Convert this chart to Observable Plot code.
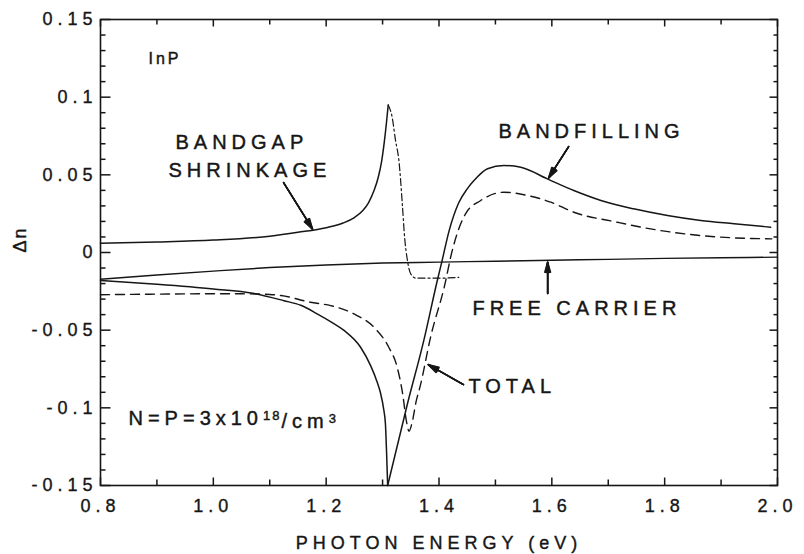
<!DOCTYPE html>
<html><head><meta charset="utf-8">
<script src="https://cdn.jsdelivr.net/npm/d3@7"></script>
<script src="https://cdn.jsdelivr.net/npm/@observablehq/plot@0.6"></script>
<style>
html,body{margin:0;padding:0;background:#fff;}
#chart svg{display:block;}
</style>
</head><body><div id="chart"></div>
<script>
// ---- data (photon energy in eV, Δn) ----
const bgsE  = [0.80,0.90,1.00,1.10,1.15,1.20,1.23,1.25,1.265,1.275,1.285,1.292,1.298,1.303,1.307,1.310];
const bgsDn = [0.0060,0.0068,0.0080,0.0105,0.0130,0.0160,0.0190,0.0225,0.0270,0.0320,0.0400,0.0480,0.0580,0.0710,0.0840,0.0950];
const bgsTailE  = [1.310,1.317,1.323,1.329,1.335,1.339,1.344,1.350,1.359,1.400,1.435];
const bgsTailDn = [0.0950,0.0870,0.0720,0.0590,0.0310,0.0100,-0.0050,-0.0138,-0.0165,-0.0165,-0.0160];
const bfLowE  = [0.80,0.90,1.00,1.07,1.125,1.155,1.184,1.21,1.231,1.261,1.279,1.290,1.296,1.302,1.305,1.307,1.309];
const bfLowDn = [-0.0180,-0.0205,-0.0235,-0.0262,-0.0310,-0.0340,-0.0395,-0.0450,-0.0500,-0.0610,-0.0730,-0.0830,-0.0900,-0.1010,-0.1100,-0.1280,-0.1500];
const bfHighE  = [1.309,1.344,1.373,1.397,1.405,1.418,1.435,1.450,1.462,1.486,1.515,1.545,1.592,1.639,1.687,1.745,1.805,1.864,1.923,1.988];
const bfHighDn = [-0.1500,-0.0975,-0.0567,-0.0180,-0.0060,0.0141,0.0320,0.0410,0.0463,0.0539,0.0560,0.0549,0.0474,0.0399,0.0335,0.0281,0.0238,0.0206,0.0185,0.0163];
const fcE  = [0.8,0.9,1.0,1.1,1.2,1.3,1.4,1.5,1.6,1.7,1.8,1.9,2.0];
const fcDn = [-0.0172,-0.0145,-0.0120,-0.0097,-0.0080,-0.0068,-0.0062,-0.0056,-0.0050,-0.0044,-0.0038,-0.0034,-0.0030];
const totE  = [0.80,0.90,0.98,1.05,1.10,1.12,1.172,1.208,1.249,1.287,1.311,1.326,1.336,1.342,1.347,1.352,1.360,1.366,1.385,1.412,1.420,1.432,1.447,1.474,1.515,1.557,1.598,1.639,1.716,1.775,1.864,1.923,1.990];
const totDn = [-0.0272,-0.0268,-0.0266,-0.0266,-0.0270,-0.0277,-0.0320,-0.0342,-0.0395,-0.0490,-0.0610,-0.0740,-0.0920,-0.1080,-0.1150,-0.1100,-0.0950,-0.0870,-0.0546,-0.0180,-0.0040,0.0120,0.0249,0.0335,0.0388,0.0367,0.0324,0.0259,0.0195,0.0152,0.0109,0.0094,0.0088];

const xTicks = [0.8,1.0,1.2,1.4,1.6,1.8,2.0];
const xTickLabels = ["0.8","1.0","1.2","1.4","1.6","1.8","2.0"];
const xMinorTicks = [0.9,1.1,1.3,1.5,1.7,1.9];
const yTicks = [-0.15,-0.1,-0.05,0,0.05,0.1,0.15];
const yTickLabels = ["-0.15","-0.1","-0.05","0","0.05","0.1","0.15"];
const yMinorTicks = [-0.14,-0.13,-0.12,-0.11,-0.09,-0.08,-0.07,-0.06,-0.04,-0.03,-0.02,-0.01,0.01,0.02,0.03,0.04,0.06,0.07,0.08,0.09,0.11,0.12,0.13,0.14];

// ---- layout ----
const W = 804, H = 554;
const mL = 100, mR = 27, mT = 19, mB = 69;
const iW = W - mL - mR, iH = H - mT - mB;
const X0 = 0.8, X1 = 2.0, Y0 = -0.15, Y1 = 0.15;
const kx = (X1 - X0) / iW, ky = (Y1 - Y0) / iH;   // data units per pixel
const INK = "#161616";
const FONT = "'Liberation Sans', Arial, Helvetica, sans-serif";
const rows = (xs, ys) => xs.map((x, i) => ({x, y: ys[i]}));
const CONC = "N=P=3x10\u00B9\u2078/cm\u00B3";

const labels = [
  {x: 0.8851, y: 0.1249, t: "InP", s: 16},
  {x: 0.9329, y: 0.0705, t: "BANDGAP", s: 20},
  {x: 0.9205, y: 0.0528, t: "SHRINKAGE", s: 20},
  {x: 1.5054, y: 0.0776, t: "BANDFILLING", s: 20},
  {x: 1.4593, y: -0.0364, t: "FREE CARRIER", s: 20},
  {x: 1.4522, y: -0.0866, t: "TOTAL", s: 20},
  {x: 0.8496, y: -0.1070, t: CONC, s: 20}
];
const arrows = [
  {x1: 1.1245, y1: 0.0450, x2: 1.1759, y2: 0.0150},
  {x1: 1.6298, y1: 0.0682, x2: 1.5943, y2: 0.0480},
  {x1: 1.5926, y1: -0.0264, x2: 1.5926, y2: -0.0062},
  {x1: 1.4434, y1: -0.0850, x2: 1.3810, y2: -0.0722}
];

// tick segments (inward on all four sides), built from the tick arrays
const seg = [];
for (const v of xTicks)      { seg.push({x1: v, x2: v, y1: Y0, y2: Y0 + 8 * ky}, {x1: v, x2: v, y1: Y1, y2: Y1 - 7 * ky}); }
for (const v of xMinorTicks) { seg.push({x1: v, x2: v, y1: Y0, y2: Y0 + 6 * ky}, {x1: v, x2: v, y1: Y1, y2: Y1 - 5 * ky}); }
for (const v of yTicks)      { seg.push({x1: X0, x2: X0 + 10 * kx, y1: v, y2: v}, {x1: X1, x2: X1 - 8 * kx, y1: v, y2: v}); }
for (const v of yMinorTicks) { seg.push({x1: X0, x2: X0 + 5 * kx, y1: v, y2: v}, {x1: X1, x2: X1 - 4 * kx, y1: v, y2: v}); }

const lineOpts = {x: "x", y: "y", stroke: INK, strokeWidth: 1.5, curve: "monotone-x"};

const chart = Plot.plot({
  width: W, height: H,
  marginLeft: mL, marginRight: mR, marginTop: mT, marginBottom: mB,
  x: {domain: [X0, X1]},
  y: {domain: [Y0, Y1]},
  style: {fontFamily: FONT, background: "#fff", color: INK},
  marks: [
    Plot.axisX({ticks: xTicks, tickSize: 0, tickPadding: 14, fontSize: 18, fill: INK,
      tickFormat: d => xTickLabels[xTicks.indexOf(d)], label: null}),
    Plot.axisY({ticks: yTicks, tickSize: 0, tickPadding: 3, fontSize: 18, fill: INK,
      tickFormat: d => yTickLabels[yTicks.indexOf(d)], label: null}),
    Plot.frame({stroke: INK, strokeWidth: 1.6}),
    Plot.link(seg, {x1: "x1", y1: "y1", x2: "x2", y2: "y2", stroke: INK, strokeWidth: 1.5}),
    Plot.line(rows(fcE, fcDn), {...lineOpts, strokeWidth: 1.4}),
    Plot.line(rows(bgsE, bgsDn), lineOpts),
    Plot.line(rows(bgsTailE, bgsTailDn), {...lineOpts, strokeWidth: 1.2, strokeDasharray: "7,3,2,3"}),
    Plot.line(rows(bfLowE, bfLowDn), lineOpts),
    Plot.line(rows(bfHighE, bfHighDn), lineOpts),
    Plot.line(rows(totE, totDn), {...lineOpts, strokeWidth: 1.4, strokeDasharray: "9,6"}),
    ...[8, 16, 24, 32].map(a => Plot.arrow(arrows, {x1: "x1", y1: "y1", x2: "x2", y2: "y2", stroke: INK, strokeWidth: 1.5, headLength: 11, headAngle: a})),
    Plot.text(labels, {x: "x", y: "y", text: "t", fontSize: d => d.s, textAnchor: "start", fill: INK, stroke: INK, strokeWidth: 0.45}),
    Plot.text(["\u0394n"], {frameAnchor: "left", dx: -80, rotate: -90, fontSize: 18, fill: INK, stroke: INK, strokeWidth: 0.4}),
    Plot.text(["PHOTON ENERGY (eV)"], {frameAnchor: "bottom", lineAnchor: "middle", dy: 58, fontSize: 18, fill: INK, stroke: INK, strokeWidth: 0.4})
  ]
});

const sel = d3.select(chart).selectAll("text");
sel.style("letter-spacing", "5px");
sel.filter(function(){ return this.textContent === "\u0394n"; }).style("letter-spacing", "2px");
sel.filter(function(){ return this.textContent === "InP"; }).style("letter-spacing", "3px");
d3.select(chart).selectAll("[aria-label^='x-axis'] text, [aria-label^='y-axis'] text").attr("stroke", INK).attr("stroke-width", 0.35);
// real superscripts for the carrier density label
sel.filter(function(){ return this.textContent === CONC; }).each(function(){
  const t = d3.select(this);
  t.text(null);
  t.append("tspan").text("N=P=3x10");
  t.append("tspan").attr("dy", "-0.42em").attr("font-size", "13px").style("letter-spacing", "2px").text("18");
  t.append("tspan").attr("dy", "0.42em").text("/cm");
  t.append("tspan").attr("dy", "-0.42em").attr("font-size", "13px").text("3");
});
document.getElementById("chart").appendChild(chart);
</script>
</body></html>
